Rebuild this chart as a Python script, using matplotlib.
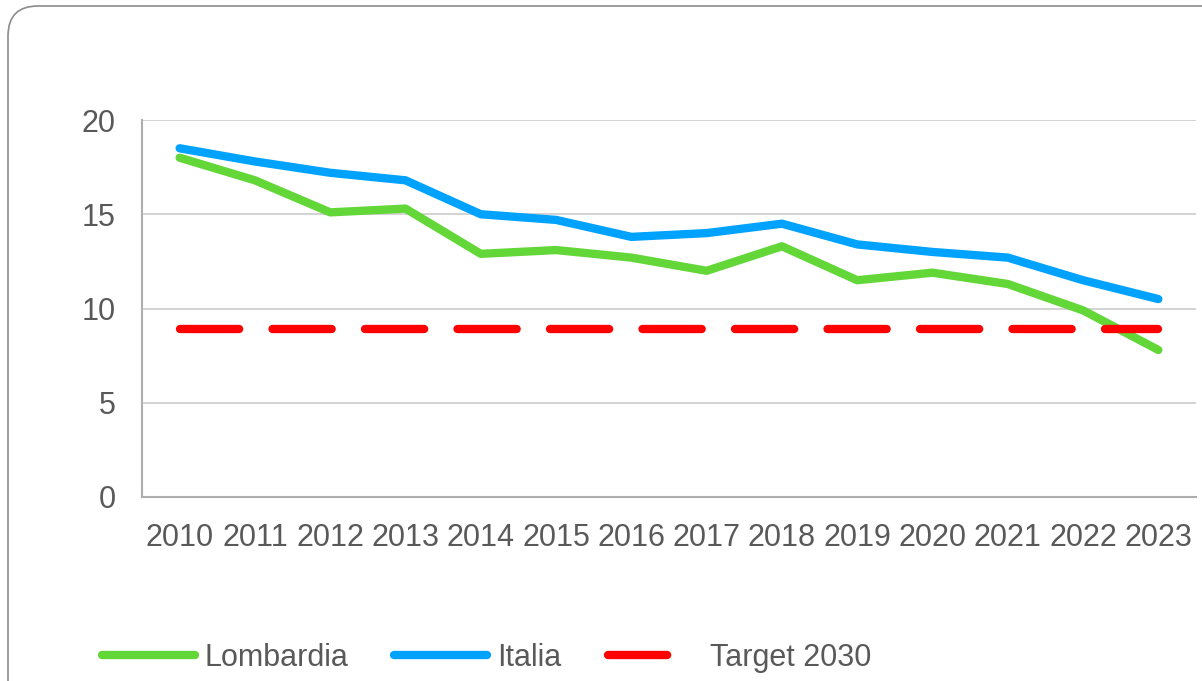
import matplotlib
matplotlib.use('Agg')
import matplotlib.pyplot as plt
import matplotlib.transforms as mtransforms
from matplotlib.patches import FancyBboxPatch

years = ['2010', '2011', '2012', '2013', '2014', '2015', '2016',
         '2017', '2018', '2019', '2020', '2021', '2022', '2023']
lombardia = [18.0, 16.8, 15.1, 15.3, 12.9, 13.1, 12.7, 12.0, 13.3, 11.5, 11.9, 11.3, 9.9, 7.8]
italia = [18.5, 17.8, 17.2, 16.8, 15.0, 14.7, 13.8, 14.0, 14.5, 13.4, 13.0, 12.7, 11.5, 10.5]
target_2030 = [8.9] * len(years)
y_ticks = [0, 5, 10, 15, 20]

text_color = '#595959'
plt.rcParams['font.family'] = ['Liberation Sans', 'DejaVu Sans']

fig = plt.figure(figsize=(12.02, 6.81), dpi=100)
ax = fig.add_axes([142 / 1202, 1 - 497 / 681, (1196 - 142) / 1202, (497 - 120) / 681])

x = list(range(len(years)))
l1, = ax.plot(x, lombardia, color='#62D737', lw=6, solid_capstyle='round',
              solid_joinstyle='round', label='Lombardia', zorder=3)
l2, = ax.plot(x, italia, color='#00A2FF', lw=6, solid_capstyle='round',
              solid_joinstyle='round', label='Italia', zorder=3)
l3, = ax.plot(x, target_2030, color='#FF0000', lw=6, linestyle=(0, (7.1, 4.0)),
              dash_capstyle='round', label='Target 2030', zorder=4)

ax.set_xlim(-0.5, len(years) - 0.5)
ax.set_ylim(0, 20)
ax.set_xticks(x)
ax.set_xticklabels(years)
ax.set_yticks(y_ticks)
ax.tick_params(axis='both', length=0, labelsize=22, labelcolor=text_color)
ax.tick_params(axis='y', pad=19)
ax.tick_params(axis='x', pad=19)
ax.yaxis.grid(True, color='#D0D0D0', lw=1.3)
ax.set_axisbelow(True)
for side in ['top', 'right']:
    ax.spines[side].set_visible(False)
for side in ['left', 'bottom']:
    ax.spines[side].set_color('#ADADAD')
    ax.spines[side].set_linewidth(1.5)

fig.legend(handles=[l1, l2, l3], loc='center', bbox_to_anchor=(0.405, 1 - 658 / 681),
           ncol=3, frameon=False, fontsize=22, labelcolor=text_color,
           handlelength=3.04, handletextpad=0.33, columnspacing=1.5)

# rounded border of the chart area
border = FancyBboxPatch((8, -40), 1230, 675 + 40, boxstyle='round,pad=0,rounding_size=30',
                        transform=mtransforms.IdentityTransform(), fill=False,
                        edgecolor='#8C8C8C', lw=1.2)
fig.patches.append(border)

fig.savefig('out.png', dpi=100, facecolor='white')
